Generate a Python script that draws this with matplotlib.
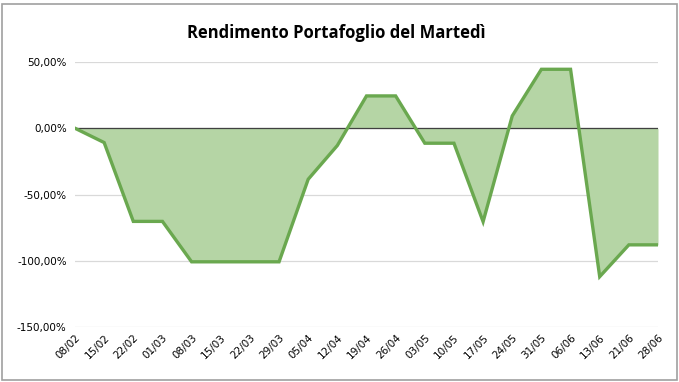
import matplotlib
matplotlib.use("Agg")
import matplotlib.pyplot as plt
from matplotlib.ticker import FuncFormatter
from matplotlib.patches import Rectangle

dates = ["08/02", "15/02", "22/02", "01/03", "08/03", "15/03", "22/03", "29/03",
         "05/04", "12/04", "19/04", "26/04", "03/05", "10/05", "17/05", "24/05",
         "31/05", "06/06", "13/06", "21/06", "28/06"]
rendimento = [0.0, -0.108, -0.703, -0.703, -1.008, -1.008, -1.008, -1.008,
              -0.385, -0.13, 0.244, 0.244, -0.113, -0.113, -0.705, 0.093,
              0.445, 0.445, -1.12, -0.88, -0.88]

line_color = "#6AA84F"
fill_color = "#B5D5A5"

fig = plt.figure(figsize=(6.79, 3.82), dpi=100)
ax = fig.add_axes([75/679, 55/382, 583/679, 265/382])

x = list(range(len(dates)))
ax.fill_between(x, rendimento, 0, color=fill_color, linewidth=0)
ax.plot(x, rendimento, color=line_color, linewidth=2.4, solid_joinstyle="miter")
ax.axhline(0, color="#404040", linewidth=0.9, zorder=1.5)

ax.set_xlim(0, len(dates) - 1)
ax.set_ylim(-1.5, 0.5)
ax.set_yticks([-1.5, -1.0, -0.5, 0.0, 0.5])
ax.yaxis.set_major_formatter(FuncFormatter(lambda v, p: f"{v*100:.2f}%".replace(".", ",")))
ax.set_xticks(x)
ax.set_xticklabels(dates, rotation=45, ha="right", rotation_mode="anchor")
ax.grid(axis="y", color="#D9D9D9", linewidth=0.9)
ax.set_axisbelow(True)
for s in ax.spines.values():
    s.set_visible(False)
ax.tick_params(axis="both", length=0, labelsize=7.5)
ax.tick_params(axis="y", pad=6)
ax.tick_params(axis="x", pad=4)

fig.text(0.495, 0.913, "Rendimento Portafoglio del Martedì", ha="center", va="center",
         fontsize=12, fontweight="bold", family="Open Sans")

fig.patches.append(Rectangle((2/679, 2/382), 675/679, 376/382, transform=fig.transFigure,
                             fill=False, edgecolor="#A0A0A0", linewidth=1.2))

fig.savefig("out.png", dpi=100)
